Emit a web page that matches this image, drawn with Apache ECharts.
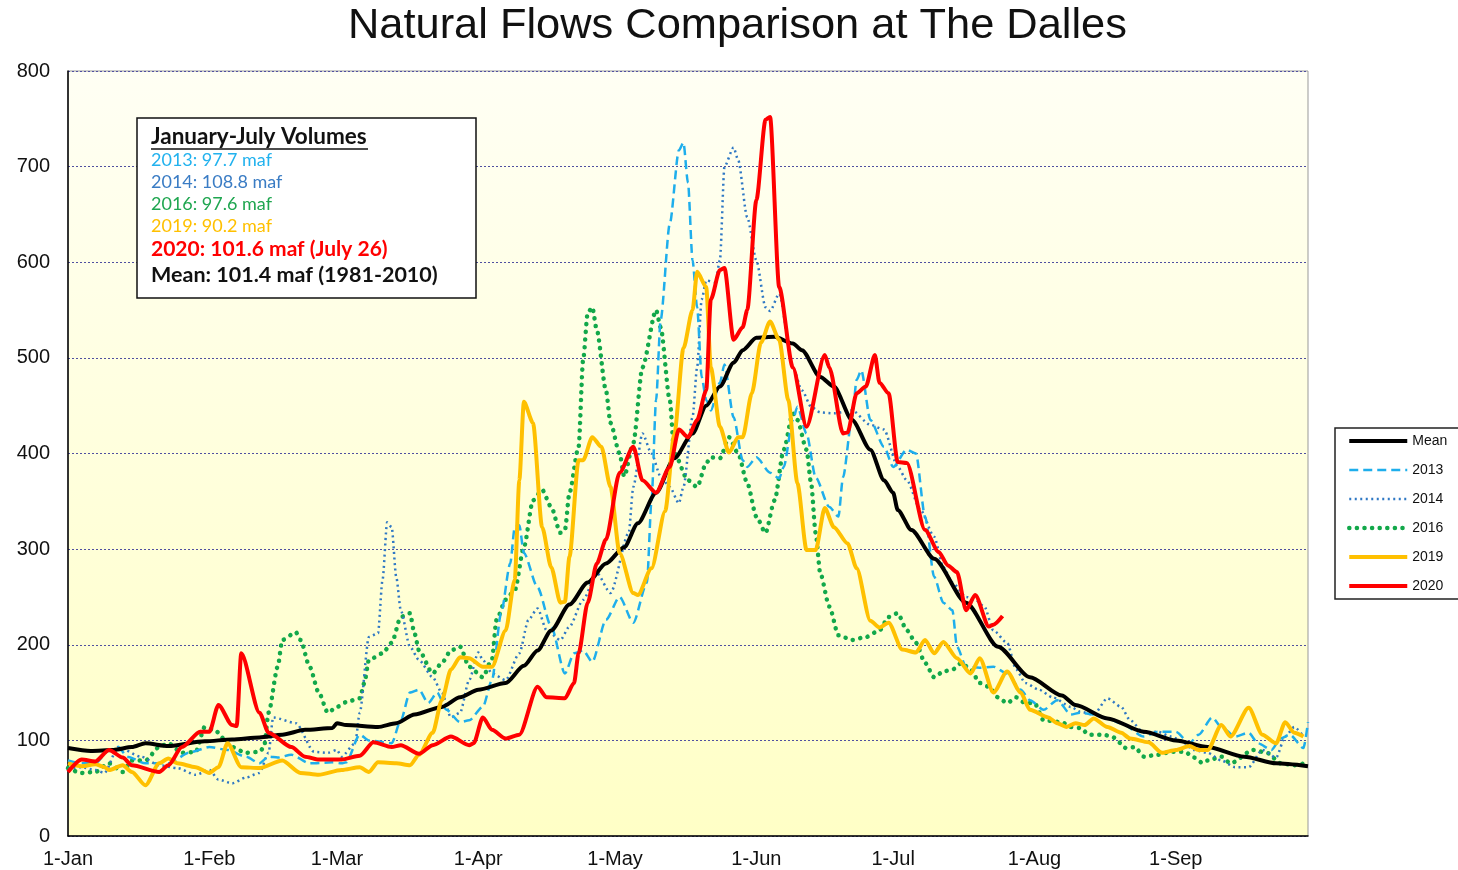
<!DOCTYPE html>
<html>
<head>
<meta charset="utf-8">
<script src="https://cdn.jsdelivr.net/npm/echarts@6/dist/echarts.min.js"></script>
<style>
html,body{margin:0;padding:0;background:#fff;}
#chart{width:1458px;height:870px;}
</style>
</head>
<body>
<div id="chart"></div>
<script>
// x = day of year (0 = 1-Jan), y = flow (kcfs)
const monthStarts = [0, 31, 59, 90, 120, 151, 181, 212, 243];
const monthLabels = ['1-Jan','1-Feb','1-Mar','1-Apr','1-May','1-Jun','1-Jul','1-Aug','1-Sep'];
const yTicks = [0,100,200,300,400,500,600,700,800];

const meanData = [[0,92],[5,89],[10,90],[14,93],[17,97],[22,94],[30,99],[36,101],[42,103],[47,106],[52,111],[58,113],[59,118],[61,116],[68,114],[72,118],[76,127],[82,135],[86,145],[90,153],[96,160],[100,178],[103,194],[106,215],[110,242],[114,265],[118,285],[122,302],[125,327],[129,359],[133,395],[137,421],[140,450],[143,470],[146,495],[148,508],[151,521],[155,522],[159,515],[161,508],[165,480],[168,470],[172,435],[176,404],[179,372],[181,359],[182,341],[185,320],[190,290],[197,244],[204,198],[211,166],[218,147],[221,137],[228,123],[236,109],[243,100],[250,93],[258,83],[265,76],[272,73]];

const s2013 = [[0,79],[3,76],[6,76],[9,90],[11,93],[13,83],[17,76],[22,76],[27,88],[31,93],[35,90],[39,83],[42,76],[44,83],[46,82],[49,85],[53,76],[58,77],[60,76],[61,77],[64,106],[66,100],[71,97],[73,121],[75,150],[77,153],[79,139],[81,150],[83,132],[86,119],[88,121],[91,135],[93,163],[95,233],[97,285],[98,323],[99,325],[100,296],[103,260],[106,219],[109,170],[111,191],[113,194],[115,182],[118,226],[121,250],[124,223],[127,265],[128,351],[129,456],[130,540],[132,640],[134,717],[135,725],[136,683],[137,602],[138,553],[139,480],[140,456],[141,445],[143,474],[144,493],[146,438],[148,393],[149,386],[151,396],[154,380],[156,374],[157,386],[159,435],[160,449],[162,421],[164,375],[167,344],[169,334],[170,375],[172,438],[173,477],[174,487],[176,435],[179,407],[181,386],[184,404],[186,400],[188,334],[190,271],[192,244],[194,236],[195,198],[197,177],[200,176],[203,177],[206,170],[209,153],[211,142],[214,132],[217,142],[220,127],[222,129],[225,127],[228,123],[231,118],[236,104],[239,109],[243,109],[246,97],[248,106],[251,124],[253,114],[256,104],[259,108],[261,97],[264,90],[266,102],[268,106],[271,92],[272,119]];

const s2014 = [[0,70],[3,72],[6,69],[8,66],[11,93],[16,83],[20,74],[24,71],[28,64],[31,69],[33,59],[36,55],[39,61],[42,66],[44,87],[45,124],[50,118],[54,88],[57,87],[59,90],[60,83],[63,97],[64,129],[66,208],[68,212],[69,268],[70,328],[71,323],[72,271],[73,236],[75,198],[77,184],[80,166],[82,150],[84,124],[86,129],[88,163],[90,192],[91,184],[93,170],[96,163],[99,191],[101,226],[103,238],[105,215],[108,205],[110,219],[113,247],[116,275],[119,254],[123,317],[124,365],[126,421],[128,400],[130,376],[132,365],[134,348],[135,365],[137,438],[138,490],[139,561],[140,581],[142,579],[143,602],[144,700],[146,720],[147,707],[149,647],[151,602],[153,553],[154,549],[156,567],[159,490],[161,466],[163,449],[165,443],[168,442],[172,445],[176,430],[179,425],[182,386],[184,372],[187,341],[190,313],[192,281],[194,265],[197,250],[199,247],[201,240],[203,215],[206,202],[208,174],[210,160],[213,153],[216,145],[220,135],[222,130],[225,127],[228,144],[231,135],[233,121],[236,108],[239,109],[242,104],[244,100],[247,90],[250,87],[253,79],[256,72],[259,72],[262,90],[265,82],[267,104],[269,114],[271,104]];

const s2016 = [[0,71],[3,66],[6,67],[9,76],[12,67],[14,79],[17,79],[20,93],[22,97],[25,87],[28,88],[30,114],[32,111],[36,93],[39,87],[42,88],[43,93],[44,129],[46,177],[47,205],[50,213],[51,205],[53,177],[55,150],[57,129],[59,135],[61,140],[64,144],[65,160],[66,184],[69,191],[71,202],[73,229],[75,233],[76,212],[77,194],[80,170],[82,181],[84,194],[86,198],[88,177],[91,166],[93,185],[94,226],[96,247],[98,257],[100,302],[102,351],[104,362],[106,344],[108,317],[109,320],[110,359],[112,407],[113,498],[114,547],[115,553],[116,529],[118,466],[119,432],[121,400],[122,376],[124,411],[126,490],[129,550],[130,532],[132,456],[133,400],[136,372],[138,365],[140,390],[141,396],[143,395],[145,417],[147,400],[149,369],[151,334],[153,317],[155,351],[157,404],[159,442],[160,435],[162,404],[163,369],[164,317],[165,275],[167,240],[169,210],[172,205],[175,208],[178,215],[180,229],[182,233],[184,215],[186,202],[188,181],[190,166],[192,172],[194,174],[196,181],[198,174],[200,160],[202,156],[204,145],[206,139],[208,145],[210,139],[212,139],[214,121],[218,119],[220,114],[222,113],[224,106],[227,106],[229,104],[231,97],[232,92],[234,93],[236,83],[239,85],[242,88],[245,88],[247,82],[249,76],[250,79],[253,83],[255,76],[260,90],[263,87],[266,76],[269,74],[272,77]];

const s2019 = [[0,76],[3,73],[6,75],[8,72],[9,69],[12,74],[14,67],[17,53],[20,76],[22,81],[24,76],[28,72],[31,66],[33,72],[35,97],[38,72],[42,71],[47,79],[51,66],[55,64],[60,69],[64,72],[66,67],[68,77],[72,76],[75,74],[77,85],[80,108],[82,142],[84,174],[86,187],[88,186],[91,177],[93,177],[96,215],[98,268],[99,372],[100,454],[102,432],[104,323],[106,281],[108,244],[109,245],[110,292],[112,393],[113,393],[115,417],[117,407],[119,365],[121,296],[124,254],[125,252],[128,280],[131,340],[133,420],[135,510],[137,550],[138,590],[140,574],[141,490],[143,428],[145,401],[147,417],[148,417],[150,463],[152,516],[154,538],[156,519],[158,456],[160,369],[162,299],[164,299],[166,343],[168,323],[171,306],[173,280],[176,225],[178,218],[180,223],[183,195],[186,192],[188,205],[190,191],[192,203],[195,186],[198,170],[200,186],[203,150],[206,172],[209,150],[211,132],[215,124],[217,118],[219,114],[221,118],[223,116],[225,123],[228,114],[231,108],[233,102],[237,98],[240,87],[243,90],[246,94],[248,90],[250,90],[253,116],[255,104],[259,134],[262,106],[265,97],[267,119],[269,108],[271,104]];

const s2020 = [[0,67],[3,80],[6,78],[9,90],[12,82],[14,74],[20,67],[22,74],[25,93],[29,109],[31,109],[33,137],[36,116],[37,115],[38,191],[42,129],[44,108],[49,93],[52,83],[55,80],[60,80],[64,84],[67,98],[71,93],[73,95],[77,86],[80,95],[84,104],[88,95],[89,97],[91,124],[93,111],[96,102],[99,106],[103,156],[105,145],[109,144],[111,160],[112,191],[114,244],[116,285],[118,310],[121,380],[124,407],[126,372],[129,359],[132,386],[134,425],[136,417],[138,435],[140,466],[141,561],[143,592],[144,594],[146,519],[148,532],[149,550],[151,665],[153,749],[154,752],[156,574],[159,490],[162,428],[166,503],[167,490],[170,421],[171,422],[173,463],[175,470],[177,503],[178,474],[180,463],[182,391],[184,390],[188,320],[191,297],[193,283],[195,276],[197,236],[199,252],[202,219],[203,221],[205,230]];

const chart = echarts.init(document.getElementById('chart'));
const FONT = 'Liberation Sans, Arial, sans-serif';

function mkLine(name, data, color, width, type, z, cap) {
  return {
    name: name, type: 'line', data: data, showSymbol: false, symbol: 'none',
    smooth: 0.25, smoothMonotone: 'x', z: z,
    lineStyle: { color: color, width: width, type: type, cap: cap || 'butt' },
    itemStyle: { color: color },
    emphasis: { disabled: true }
  };
}

const option = {
  animation: false,
  backgroundColor: '#ffffff',
  title: {
    text: 'Natural Flows Comparison at The Dalles',
    left: 343, top: 0,
    textStyle: { fontFamily: FONT, fontSize: 43.4, fontWeight: 'normal', color: '#111' }
  },
  grid: {
    left: 68, right: 150, top: 71, bottom: 34,
    show: true,
    borderColor: '#999', borderWidth: 1,
    backgroundColor: new echarts.graphic.LinearGradient(0, 0, 0, 1, [
      { offset: 0, color: '#FFFFF4' },
      { offset: 1, color: '#FFFFC6' }
    ])
  },
  legend: {
    orient: 'vertical', left: 1335, top: 428,
    backgroundColor: '#fff', borderColor: '#222', borderWidth: 1.5,
    padding: [6, 12, 6, 12],
    itemWidth: 58, itemHeight: 14, itemGap: 15,
    itemStyle: { opacity: 0, borderWidth: 0 },
    lineStyle: { width: 'inherit' },
    textStyle: { fontFamily: FONT, fontSize: 14, color: '#111' },
    data: ['Mean', '2013', '2014', '2016', '2019', '2020']
  },
  xAxis: {
    type: 'value', min: 0, max: 272,
    axisLine: { show: true, lineStyle: { color: '#000', width: 1.5 } },
    axisTick: { show: false },
    splitLine: { show: false },
    axisLabel: {
      customValues: monthStarts,
      formatter: function (v) { const i = monthStarts.indexOf(v); return i >= 0 ? monthLabels[i] : ''; },
      fontFamily: FONT, fontSize: 20, color: '#111', margin: 13
    }
  },
  yAxis: {
    type: 'value', min: 0, max: 800, interval: 100,
    axisLine: { show: true, lineStyle: { color: '#000', width: 1.5 } },
    axisTick: { show: false },
    splitLine: { show: true, lineStyle: { color: '#5050A0', width: 1, type: [2, 2] } },
    axisLabel: {
      formatter: function (v) { return yTicks.indexOf(v) >= 0 ? String(v) : ''; },
      fontFamily: FONT, fontSize: 20, color: '#111', margin: 18
    }
  },
  graphic: [
    { type: 'rect', shape: { x: 137, y: 118, width: 339, height: 180 },
      style: { fill: '#fff', stroke: '#111', lineWidth: 1.5 }, z: 100 },
    { type: 'text', x: 151, y: 137, z: 101,
      style: { text: 'January-July Volumes', fill: '#111', font: 'bold 22.5px Lato, sans-serif', textVerticalAlign: 'middle' } },
    { type: 'line', shape: { x1: 151, y1: 149, x2: 368, y2: 149 }, z: 101,
      style: { stroke: '#111', lineWidth: 1.5 } },
    { type: 'text', x: 151, y: 160, z: 101,
      style: { text: '2013: 97.7 maf', fill: '#22B2EE', font: '18px Lato, sans-serif', textVerticalAlign: 'middle' } },
    { type: 'text', x: 151, y: 182, z: 101,
      style: { text: '2014: 108.8 maf', fill: '#3A7CC4', font: '18px Lato, sans-serif', textVerticalAlign: 'middle' } },
    { type: 'text', x: 151, y: 204, z: 101,
      style: { text: '2016: 97.6 maf', fill: '#1FA650', font: '18px Lato, sans-serif', textVerticalAlign: 'middle' } },
    { type: 'text', x: 151, y: 226, z: 101,
      style: { text: '2019: 90.2 maf', fill: '#FFC000', font: '18px Lato, sans-serif', textVerticalAlign: 'middle' } },
    { type: 'text', x: 151, y: 249, z: 101,
      style: { text: '2020: 101.6 maf (July 26)', fill: '#FF0000', font: 'bold 21px Lato, sans-serif', textVerticalAlign: 'middle' } },
    { type: 'text', x: 151, y: 275, z: 101,
      style: { text: 'Mean: 101.4 maf (1981-2010)', fill: '#111', font: 'bold 21.5px Lato, sans-serif', textVerticalAlign: 'middle' } }
  ],
  series: [
    mkLine('Mean', meanData, '#000000', 4, 'solid', 5),
    mkLine('2013', s2013, '#1EAEEC', 2.5, [9, 5], 4),
    mkLine('2014', s2014, '#2F78C4', 2.5, [2, 3.5], 3),
    mkLine('2016', s2016, '#12A84A', 4.5, [0.1, 7.5], 2, 'round'),
    mkLine('2019', s2019, '#FFC000', 4, 'solid', 6),
    mkLine('2020', s2020, '#FF0000', 4, 'solid', 7)
  ]
};
chart.setOption(option);
</script>
</body>
</html>
